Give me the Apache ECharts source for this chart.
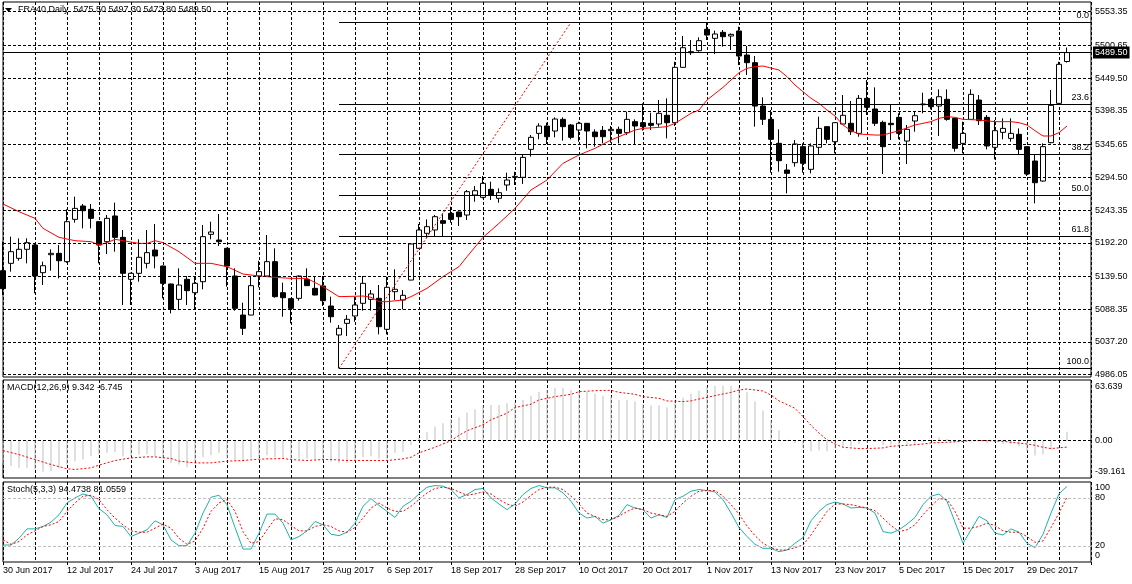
<!DOCTYPE html>
<html><head><meta charset="utf-8">
<script src="https://cdn.jsdelivr.net/npm/echarts@6/dist/echarts.min.js"></script>
<style>html,body{margin:0;padding:0;background:#fff}#c{width:1132px;height:584px}</style>
</head><body><div id="c"></div>
<script>
// ---------- data ----------
const symbolName = 'FRA40,Daily';
const dateLabels = ['30 Jun 2017','12 Jul 2017','24 Jul 2017','3 Aug 2017','15 Aug 2017','25 Aug 2017','6 Sep 2017','18 Sep 2017','28 Sep 2017','10 Oct 2017','20 Oct 2017','1 Nov 2017','13 Nov 2017','23 Nov 2017','5 Dec 2017','15 Dec 2017','29 Dec 2017'];
const priceTicks = [5553.35,5500.65,5449.50,5398.35,5345.65,5294.50,5243.35,5192.20,5139.50,5088.35,5037.20,4986.05];
const macdTicks = [63.639, 0, -39.161];
const stochTicks = [100, 80, 20, 0];
const stochLevels = [20, 80];
// [open, close, low, high]
const ohlc = [
[5148.6,5120.5,5110.6,5193.9],[5160.1,5178.3,5147.1,5201.8],[5167.9,5182.0,5164.2,5199.2],[5182.0,5192.4,5160.1,5199.2],
[5188.7,5140.3,5113.2,5190.0],[5145.5,5156.4,5126.2,5162.7],[5173.6,5175.7,5148.6,5182.0],[5175.7,5164.2,5136.6,5188.7],
[5162.7,5225.2,5161.0,5244.5],[5228.8,5246.0,5223.6,5264.3],[5249.7,5242.4,5214.8,5252.8],[5244.5,5230.4,5214.8,5252.8],
[5225.2,5188.7,5160.1,5226.0],[5193.9,5230.4,5174.7,5235.6],[5234.1,5200.7,5178.3,5254.9],[5200.7,5144.5,5095.0,5212.2],
[5135.1,5144.5,5095.0,5145.5],[5144.5,5169.5,5131.4,5197.6],[5160.1,5176.8,5152.3,5212.2],[5180.9,5171.6,5152.3,5221.5],
[5155.9,5128.8,5105.4,5156.5],[5127.8,5088.2,5081.9,5128.5],[5103.8,5126.2,5088.2,5152.3],[5135.1,5117.4,5095.0,5140.3],
[5114.2,5128.8,5088.2,5140.3],[5131.4,5201.8,5119.5,5220.0],[5205.4,5209.1,5197.6,5225.2],[5196.5,5193.9,5187.2,5237.2],
[5183.5,5155.9,5123.6,5184.5],[5140.3,5089.8,5086.1,5152.3],[5079.3,5058.5,5048.1,5098.6],[5079.3,5125.2,5079.0,5140.3],
[5140.3,5147.1,5122.6,5164.2],[5140.3,5162.7,5140.0,5204.4],[5162.7,5108.0,5106.4,5183.5],[5114.2,5106.4,5076.7,5129.9],
[5104.9,5089.8,5066.3,5105.5],[5105.4,5140.3,5101.7,5141.0],[5135.1,5125.2,5124.8,5152.3],[5121.0,5110.6,5110.0,5140.3],
[5124.7,5101.7,5093.4,5140.3],[5093.4,5076.7,5067.4,5108.0],[5048.1,5058.5,4996.0,5063.7],[5066.3,5072.6,5046.5,5079.3],
[5077.8,5095.0,5068.9,5108.0],[5097.6,5128.8,5086.1,5140.3],[5103.8,5112.2,5086.1,5118.4],[5105.4,5061.1,5049.1,5126.2],
[5057.0,5122.6,5049.1,5139.3],[5115.8,5119.5,5102.8,5150.7],[5102.8,5110.1,5088.2,5118.4],[5134.0,5190.3,5133.5,5191.0],
[5183.5,5212.2,5183.0,5221.5],[5207.0,5217.4,5199.2,5228.8],[5212.2,5233.0,5202.8,5235.6],[5226.8,5222.6,5202.8,5238.2],
[5238.2,5228.8,5223.6,5248.6],[5240.3,5233.0,5218.4,5241.0],[5235.6,5272.1,5227.8,5274.7],[5266.9,5273.6,5256.4,5280.9],
[5263.2,5285.1,5261.7,5296.6],[5275.7,5266.9,5259.1,5287.7],[5261.7,5270.5,5254.9,5277.3],[5282.5,5290.3,5273.6,5301.8],
[5294.5,5296.0,5282.5,5303.3],[5294.5,5325.7,5284.1,5330.9],[5338.2,5357.0,5326.8,5360.6],[5363.2,5374.7,5353.9,5378.9],
[5374.7,5358.0,5346.6,5379.9],[5366.9,5385.6,5357.0,5388.2],[5385.1,5373.7,5351.8,5388.2],[5376.3,5357.0,5353.9,5377.8],
[5368.4,5378.9,5350.2,5381.5],[5378.9,5366.9,5339.8,5379.5],[5365.3,5358.0,5342.4,5369.5],[5367.9,5358.0,5347.6,5374.7],
[5367.4,5369.5,5348.7,5374.7],[5369.5,5363.2,5347.6,5373.7],[5364.3,5385.1,5360.6,5397.1],[5381.5,5374.7,5345.0,5385.1],
[5379.9,5373.7,5367.4,5410.1],[5378.9,5375.7,5368.4,5395.5],[5377.8,5394.5,5373.7,5415.3],[5391.4,5379.9,5355.4,5417.9],
[5379.9,5466.4,5374.7,5475.2],[5466.4,5497.1,5466.0,5515.3],[5490.9,5489.3,5485.6,5509.1],[5492.4,5508.0,5490.9,5513.3],
[5525.8,5516.9,5509.1,5536.8],[5511.7,5518.5,5487.2,5523.7],[5521.1,5514.3,5498.7,5524.7],[5515.3,5517.9,5493.5,5519.5],
[5523.2,5484.1,5470.0,5529.9],[5485.6,5473.7,5454.4,5499.7],[5473.7,5405.9,5373.7,5484.1],[5405.9,5385.1,5376.3,5419.5],
[5385.1,5353.9,5301.8,5399.7],[5347.6,5320.5,5303.3,5369.5],[5305.9,5300.7,5269.5,5315.3],[5317.4,5346.6,5311.2,5352.8],
[5342.4,5316.4,5301.8,5347.6],[5307.0,5343.5,5300.7,5347.6],[5341.4,5371.0,5329.4,5389.3],[5373.7,5353.9,5347.6,5374.2],
[5350.2,5379.9,5332.0,5380.4],[5377.8,5391.4,5377.3,5423.1],[5378.9,5365.8,5360.6,5413.8],[5363.2,5417.9,5358.0,5423.1],
[5417.9,5403.9,5391.9,5446.6],[5401.3,5378.9,5374.7,5435.1],[5380.4,5342.4,5299.7,5383.0],[5378.9,5376.8,5352.8,5409.1],
[5388.2,5363.2,5353.9,5394.5],[5351.2,5369.5,5315.3,5376.3],[5382.5,5390.8,5365.8,5398.1],[5408.0,5409.1,5394.5,5426.8],
[5416.4,5404.9,5400.7,5417.9],[5405.9,5420.5,5359.1,5432.0],[5416.4,5385.1,5383.0,5432.0],[5386.7,5339.8,5334.6,5387.2],
[5347.6,5363.2,5332.0,5381.5],[5385.1,5424.2,5384.1,5432.0],[5415.3,5383.0,5376.3,5423.1],[5388.2,5343.5,5338.2,5391.9],
[5341.4,5367.4,5322.6,5384.1],[5364.8,5371.0,5353.9,5386.7],[5355.4,5363.2,5350.2,5386.7],[5361.7,5338.2,5329.4,5371.0],
[5342.4,5299.7,5296.6,5343.0],[5320.0,5286.1,5253.8,5329.4],[5288.7,5342.4,5287.7,5347.6],[5348.7,5407.0,5347.6,5430.9],
[5410.1,5471.1,5409.6,5475.2],[5475.5,5489.5,5473.8,5497.3]
];
// moving average (red), read at [bar, price]
const maPoints = [[0,5252.8],[2,5240.8],[4,5230.4],[5,5214.8],[7,5200.7],[9,5195.5],[11,5193.9],[12,5188.7],[13,5192.4],[14,5197.6],[15,5195.5],[17,5191.3],[18,5191.3],[19,5195.5],[20,5192.4],[22,5178.3],[24,5160.1],[26,5160.1],[28,5154.9],[30,5143.4],[32,5140.3],[34,5138.2],[36,5136.6],[38,5136.6],[40,5123.6],[42,5108.0],[45,5109.0],[46,5107.0],[47,5100.2],[48,5100.2],[50,5102.8],[51,5108.0],[53,5121.0],[55,5139.3],[57,5154.9],[58,5170.5],[60,5200.7],[62,5222.6],[64,5246.0],[66,5274.7],[68,5290.3],[70,5316.4],[72,5329.4],[74,5339.8],[76,5352.8],[78,5363.2],[79,5368.4],[80,5371.0],[82,5372.6],[83,5373.7],[84,5378.9],[86,5394.5],[87,5399.7],[88,5415.3],[90,5435.1],[92,5458.0],[93,5464.8],[94,5467.4],[95,5468.5],[97,5462.2],[98,5451.8],[99,5438.8],[100,5428.3],[101,5418.0],[102,5410.1],[103,5399.7],[104,5390.3],[105,5376.3],[106,5367.4],[107,5362.2],[109,5360.6],[110,5360.6],[112,5367.4],[114,5376.3],[116,5381.5],[117,5386.7],[118,5389.3],[119,5388.2],[120,5385.1],[122,5384.1],[124,5381.5],[126,5381.5],[127,5379.9],[128,5376.3],[129,5367.4],[130,5359.1],[131,5359.1],[132,5364.3],[133,5374.7]];
// Fibonacci retracement
const fibRatios = ['0.0','23.6','38.2','50.0','61.8','100.0'];
const fibPrices = [5536.8,5409.2,5330.2,5266.4,5202.6,4996.0];
const fibTrend = [[42,4996.0],[71,5536.8]];
const bidPrice = 5489.50;
// MACD(12,26,9)
const macdMain = [-23.3,-26.7,-28.5,-28.5,-30.2,-32.6,-31.9,-29.2,-25.0,-21.5,-19.8,-16.3,-14.6,-12.8,-11.8,-16.3,-16.3,-14.6,-13.9,-16.3,-18.7,-23.3,-25.0,-27.8,-22.2,-17.4,-15.3,-12.8,-18.7,-20.8,-22.2,-18.7,-17.4,-15.3,-17.4,-18.1,-19.8,-18.7,-18.7,-19.8,-20.8,-22.2,-23.3,-23.3,-20.8,-17.4,-16.3,-18.7,
-19.8,-12.8,-11.8,-4.9,2.8,8.7,14.9,18.4,22.6,24.3,29.5,33.0,36.5,37.5,37.5,39.2,40.3,42.7,47.2,51.4,53.1,55.6,55.6,53.1,52.4,51.4,49.3,47.2,46.2,42.7,42.7,41.0,38.5,36.8,36.8,34.7,40.3,45.1,49.3,52.4,56.6,57.6,57.6,57.6,55.6,50.7,
41.0,31.6,21.2,10.8,1.0,-2.4,-8.3,-11.1,-10.1,-11.1,-8.3,-6.9,-5.9,-3.5,-2.4,-1.4,-4.9,-4.2,-4.9,-4.2,-3.5,-1.4,0,3.5,1.7,-1.4,-1.4,0,0,-2.4,-1.4,-3.5,-3.5,-5.9,-11.1,-15.6,-14.6,-9.4,-0.7,9.342];
const macdSignal = [[0,-10.4],[2,-14.6],[4,-19.8],[6,-25.0],[8,-29.5],[9,-30.2],[11,-28.5],[12,-25.7],[14,-20.8],[16,-18.1],[18,-17.0],[19,-17.0],[21,-18.7],[22,-21.5],[24,-23.3],[26,-23.3],[28,-21.5],[30,-20.8],[32,-19.4],[35,-18.7],[36,-19.8],[38,-20.8],[40,-19.8],[41,-19.8],[43,-20.8],[45,-20.8],[46,-20.8],[48,-20.8],[50,-19.1],[51,-17.4],[52,-12.8],[54,-6.9],[56,0],[57,5.6],[58,10.4],[60,16.7],[61,21.9],[63,28.8],[64,34.7],[66,38.2],[67,42.7],[69,46.2],[71,48.6],[72,51.4],[74,52.4],[76,52.8],[77,50.7],[79,48.6],[80,46.2],[82,44.4],[83,41.7],[85,41.0],[86,41.7],[87,43.7],[89,47.2],[91,50.7],[92,53.1],[93,54.2],[95,52.1],[96,47.9],[97,41.7],[99,34.0],[100,25.3],[101,16.0],[102,8.0],[103,1.0],[104,-3.5],[105,-6.9],[107,-8.3],[108,-8.3],[110,-7.6],[111,-5.9],[113,-4.9],[115,-3.5],[116,-2.4],[118,-1.7],[120,-0.7],[121,0],[123,0],[125,-0.7],[126,-1.7],[128,-3.5],[129,-4.9],[130,-6.9],[131,-8.3],[133,-6.745]];
// Stochastic(5,3,3)
const stochMain = [21.2,21.2,29.7,41.4,41.4,44.4,49.8,59.1,73.8,80.1,85.1,82.2,66.6,59.1,45.6,44.4,31.8,36.0,40.2,51.5,46.5,27.6,20.4,20.4,36.0,61.2,80.9,83.4,71.7,43.1,16.2,16.2,36.0,59.9,59.9,48.6,27.6,31.8,38.9,50.7,46.5,34.7,33.0,37.2,48.6,69.6,79.3,70.8,
63.3,55.7,69.6,75.9,85.1,93.5,95.6,94.8,90.6,80.1,84.3,90.6,91.9,80.1,72.5,65.4,72.5,84.3,91.9,95.6,92.7,92.7,86.4,75.9,61.2,54.9,57.0,48.6,52.8,58.2,71.7,67.5,65.4,54.9,59.1,55.7,78.0,82.2,88.5,90.6,89.3,87.6,78.0,61.2,43.1,31.8,
22.1,17.1,17.1,12.9,15.0,23.4,30.5,51.5,63.3,71.7,75.0,72.5,67.5,68.3,67.5,61.2,38.1,36.0,40.2,47.3,55.7,71.7,82.2,85.1,75.9,49.8,23.4,40.2,57.0,51.5,36.0,33.8,41.4,37.2,23.4,17.9,34.7,61.2,85.1,94.4738];
const stochSignal = [27.6,22.1,25.5,33.8,38.9,44.4,46.5,50.7,63.3,73.8,82.2,83.4,78.0,65.4,54.9,46.5,38.9,37.2,37.2,42.3,47.3,42.3,29.7,22.1,26.3,42.3,63.3,73.8,78.0,63.3,38.1,23.4,25.5,40.2,54.0,52.8,45.6,38.9,38.9,44.4,46.5,44.4,38.9,37.2,43.1,54.9,67.5,73.8,
67.5,63.3,63.3,69.6,78.0,86.4,91.9,93.5,91.9,87.6,83.4,85.1,87.6,85.1,78.0,72.5,69.6,75.0,83.4,90.6,93.5,93.5,90.6,82.2,72.5,61.2,57.0,52.8,52.8,57.0,63.3,67.5,65.4,61.2,59.1,57.0,63.3,73.8,82.2,88.5,89.3,89.3,82.2,71.7,59.9,45.0,
33.0,23.4,17.9,15.0,15.0,17.9,21.2,33.8,48.6,63.3,72.5,72.5,71.7,69.6,67.5,64.1,54.9,45.6,38.1,40.2,46.5,59.1,69.6,79.3,78.0,63.3,42.3,42.3,44.4,48.6,45.6,38.9,37.2,37.2,31.8,24.6,26.3,43.1,61.2,81.0559];

// ---------- chart ----------
const FONT = 'Liberation Sans';
const FS = 9;
const SLOTS = 137;               // bar slots on the time axis (last ones empty)
const cats = Array.from({length: SLOTS}, (_, i) => String(i));
const lastSlot = SLOTS - 1;
const gridDash = [3, 2];

function xAxisFor(gi, bottom) {
  return {
    type: 'category', gridIndex: gi, data: cats, boundaryGap: false,
    axisLine: {show: false},
    axisTick: bottom ? {show: true, interval: 7, length: 3, lineStyle: {color: '#000'}} : {show: false},
    axisLabel: bottom ? {
      show: true, interval: 7, align: 'left', margin: 4, color: '#000', fontFamily: FONT, fontSize: FS,
      formatter: v => { const n = +v; return n % 8 === 0 && dateLabels[n / 8] ? dateLabels[n / 8] : ''; }
    } : {show: false},
    splitLine: {show: true, interval: 3, lineStyle: {color: '#000', type: gridDash, width: 1}}
  };
}

const last = ohlc[ohlc.length - 1];
const titleText = symbolName + '  ' + [last[0], last[3], last[2], last[1]].map(v => v.toFixed(2)).join(' ');
const macdText = 'MACD(12,26,9) ' + macdMain[macdMain.length - 1].toFixed(3) + ' ' + macdSignal[macdSignal.length - 1][1].toFixed(3);
const stochText = 'Stoch(5,3,3) ' + stochMain[stochMain.length - 1].toFixed(4) + ' ' + stochSignal[stochSignal.length - 1].toFixed(4);

const gridCommon = {left: 3, width: 1088, show: true, borderColor: '#000', borderWidth: 1, backgroundColor: '#fff'};
const labelBase = {color: '#000', fontFamily: FONT, fontSize: FS};

const option = {
  animation: false,
  backgroundColor: '#fff',
  grid: [
    Object.assign({top: 2, height: 375}, gridCommon),
    Object.assign({top: 380, height: 98}, gridCommon),
    Object.assign({top: 482, height: 80}, gridCommon)
  ],
  xAxis: [xAxisFor(0, false), xAxisFor(1, false), xAxisFor(2, true)],
  yAxis: [
    {type: 'value', gridIndex: 0, position: 'right', min: 4982.46, max: 5568.5,
     axisLine: {show: false}, axisTick: {show: false}, splitLine: {show: false},
     axisLabel: Object.assign({customValues: priceTicks, margin: 4, formatter: v => v.toFixed(2)}, labelBase)},
    {type: 'value', gridIndex: 1, position: 'right', min: macdTicks[2], max: macdTicks[0],
     axisLine: {show: false}, axisTick: {show: false}, splitLine: {show: false},
     axisLabel: Object.assign({customValues: macdTicks, margin: 4,
       formatter: v => v > 0 ? '{t|' + v.toFixed(3) + '}' : (v < 0 ? '{b|' + v.toFixed(3) + '}' : v.toFixed(2)),
       rich: {t: Object.assign({padding: [14, 0, 0, 0]}, labelBase), b: Object.assign({padding: [0, 0, 12, 0]}, labelBase)}
     }, labelBase)},
    {type: 'value', gridIndex: 2, position: 'right', min: 0, max: 100,
     axisLine: {show: false}, axisTick: {show: false}, splitLine: {show: false},
     axisLabel: Object.assign({customValues: stochTicks, margin: 4,
       formatter: v => v === 100 ? '{t|100}' : (v === 0 ? '{b|0}' : String(v)),
       rich: {t: Object.assign({padding: [12, 0, 0, 0]}, labelBase), b: Object.assign({padding: [0, 0, 12, 0]}, labelBase)}
     }, labelBase)}
  ],
  graphic: [
    {type: 'polygon', shape: {points: [[5, 8], [12, 8], [8.5, 12]]}, style: {fill: '#000'}, z: 100},
    {type: 'text', left: 18, top: 5, z: 100, style: {text: titleText, fill: '#000', fontFamily: FONT, fontSize: FS}},
    {type: 'text', left: 7, top: 383, z: 100, style: {text: macdText, fill: '#000', fontFamily: FONT, fontSize: FS}},
    {type: 'text', left: 7, top: 485, z: 100, style: {text: stochText, fill: '#000', fontFamily: FONT, fontSize: FS}}
  ],
  series: [
    // horizontal price grid
    {type: 'line', xAxisIndex: 0, yAxisIndex: 0, data: [], z: 1, silent: true,
     markLine: {silent: true, symbol: ['none', 'none'], animation: false,
       lineStyle: {color: '#000', type: gridDash, width: 1}, label: {show: false},
       data: priceTicks.map(v => ({yAxis: v}))}},
    // candles
    {type: 'candlestick', xAxisIndex: 0, yAxisIndex: 0, data: ohlc, barWidth: 5, z: 3, silent: true,
     itemStyle: {color: '#fff', color0: '#000', borderColor: '#000', borderColor0: '#000', borderWidth: 1},
     markLine: {silent: true, symbol: ['none', 'none'], animation: false, z: 5,
       data: [
         ...fibPrices.map((p, k) => [
           {coord: [fibTrend[0][0], p], lineStyle: {color: '#000', type: 'solid', width: 1},
            label: Object.assign({show: true, position: 'insideEndTop', distance: [2, 2], formatter: fibRatios[k]}, labelBase)},
           {coord: [lastSlot, p]}
         ]),
         [
           {coord: fibTrend[0], lineStyle: {color: '#ff0000', type: [2, 2], width: 1}, label: {show: false}},
           {coord: fibTrend[1]}
         ],
         {yAxis: bidPrice, lineStyle: {color: '#000', type: 'solid', width: 1},
          label: {show: true, position: 'end', distance: 2, formatter: bidPrice.toFixed(2), color: '#fff',
                  backgroundColor: '#000', padding: [2, 2, 1, 2], fontFamily: FONT, fontSize: FS}}
       ]}},
    // moving average
    {type: 'line', xAxisIndex: 0, yAxisIndex: 0, data: maPoints, showSymbol: false, z: 4, silent: true,
     lineStyle: {color: '#ff0000', width: 1}},
    // MACD histogram
    {type: 'bar', xAxisIndex: 1, yAxisIndex: 1, data: macdMain, barWidth: 1, z: 2, silent: true,
     itemStyle: {color: '#c0c0c0'},
     markLine: {silent: true, symbol: ['none', 'none'], animation: false, label: {show: false},
       lineStyle: {color: '#000', type: gridDash, width: 1}, data: [{yAxis: 0}]}},
    // MACD signal
    {type: 'line', xAxisIndex: 1, yAxisIndex: 1, data: macdSignal, showSymbol: false, z: 4, silent: true,
     lineStyle: {color: '#ff0000', width: 1, type: [2, 2]}},
    // Stoch main
    {type: 'line', xAxisIndex: 2, yAxisIndex: 2, data: stochMain, showSymbol: false, z: 4, silent: true,
     lineStyle: {color: '#20b2aa', width: 1},
     markLine: {silent: true, symbol: ['none', 'none'], animation: false, label: {show: false},
       lineStyle: {color: '#c0c0c0', type: [3, 2], width: 1}, data: stochLevels.map(v => ({yAxis: v}))}},
    // Stoch signal
    {type: 'line', xAxisIndex: 2, yAxisIndex: 2, data: stochSignal, showSymbol: false, z: 4, silent: true,
     lineStyle: {color: '#ff0000', width: 1, type: [2, 2]}}
  ]
};

const chart = echarts.init(document.getElementById('c'), null, {renderer: 'canvas'});
chart.setOption(option);
</script>
</body></html>
